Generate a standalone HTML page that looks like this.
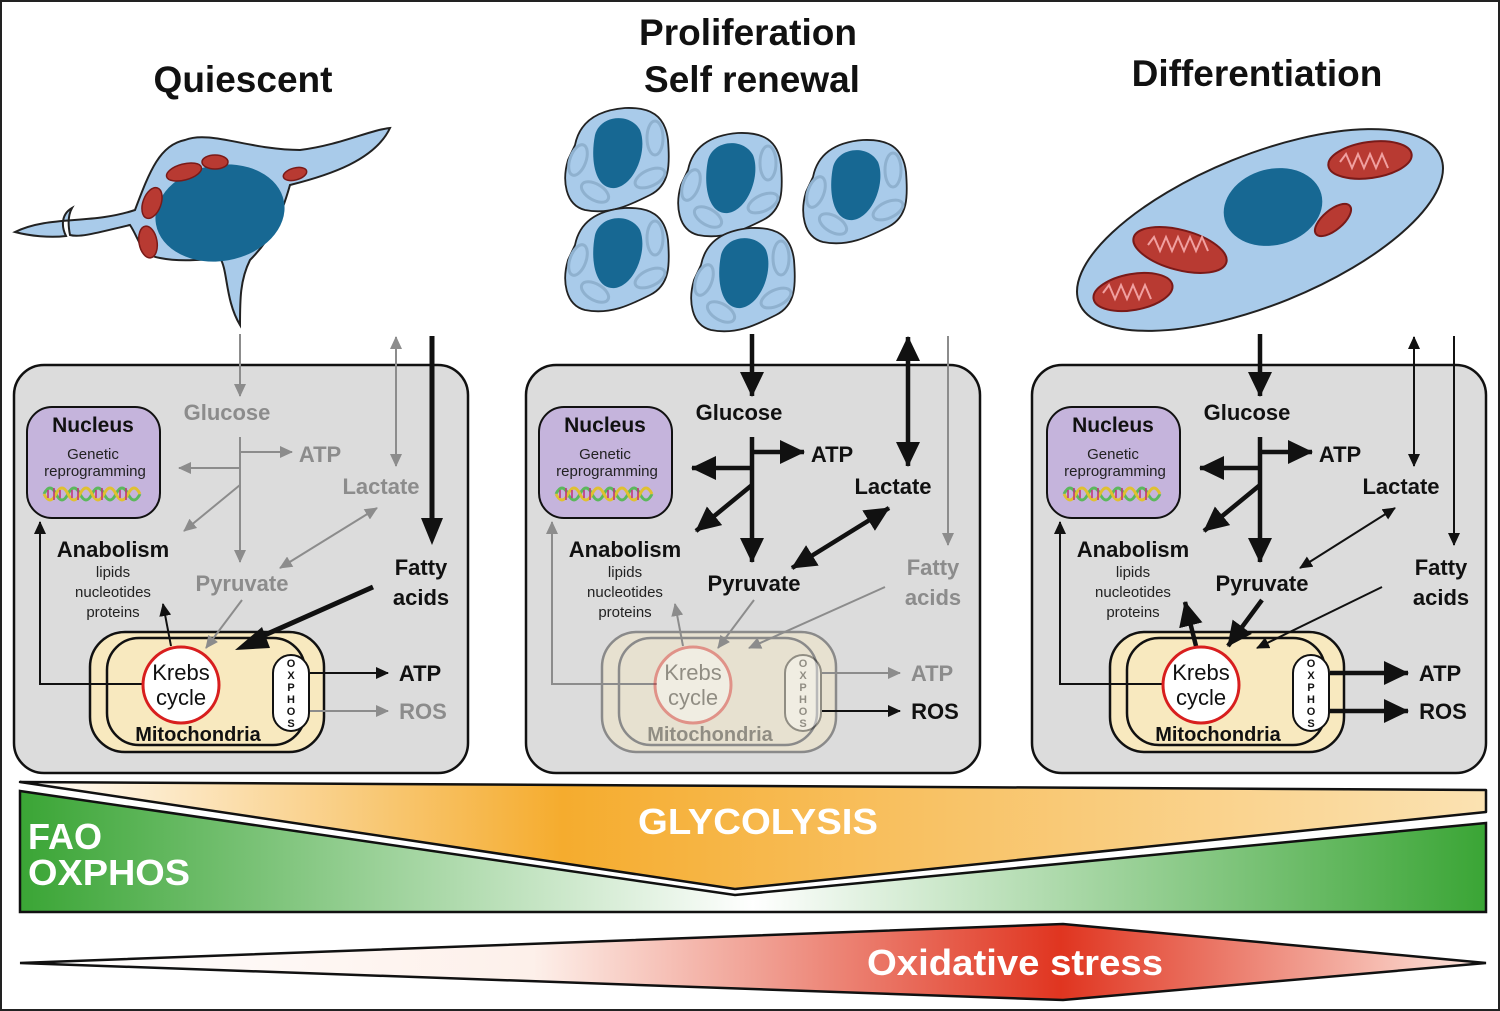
<!DOCTYPE html>
<html><head><meta charset="utf-8"><style>
html,body{margin:0;padding:0;background:#fff}
svg{display:block}
text{font-family:"Liberation Sans",Arial,sans-serif}
</style></head><body>
<svg width="1500" height="1011" viewBox="0 0 1500 1011" xmlns="http://www.w3.org/2000/svg">
<defs>
<marker id="ag" markerUnits="userSpaceOnUse" markerWidth="14" markerHeight="12" refX="12" refY="6" orient="auto-start-reverse"><path d="M0,0 L13,6 L0,12z" fill="#8c8c8c"/></marker>
<marker id="ab" markerUnits="userSpaceOnUse" markerWidth="14" markerHeight="12" refX="12" refY="6" orient="auto-start-reverse"><path d="M0,0 L13,6 L0,12z" fill="#111"/></marker>
<marker id="aB" markerUnits="userSpaceOnUse" markerWidth="26" markerHeight="24" refX="24" refY="12" orient="auto-start-reverse"><path d="M0,0 L25,12 L0,24z" fill="#111"/></marker>
<linearGradient id="gor" x1="20" x2="1486" y1="0" y2="0" gradientUnits="userSpaceOnUse"><stop offset="0" stop-color="#fff"/><stop offset="0.37" stop-color="#f5ac2e"/><stop offset="0.6" stop-color="#f8c060"/><stop offset="1" stop-color="#fbe2b2"/></linearGradient>
<linearGradient id="ggr" x1="20" x2="1486" y1="0" y2="0" gradientUnits="userSpaceOnUse"><stop offset="0" stop-color="#3aa535"/><stop offset="0.5" stop-color="#fff"/><stop offset="1" stop-color="#3aa535"/></linearGradient>
<linearGradient id="grd" x1="20" x2="1486" y1="0" y2="0" gradientUnits="userSpaceOnUse"><stop offset="0" stop-color="#fff"/><stop offset="0.35" stop-color="#fdf0ea"/><stop offset="0.71" stop-color="#e03520"/><stop offset="1" stop-color="#fde8e0"/></linearGradient>
<symbol id="cell" viewBox="-60 -55 120 110" overflow="visible">
<path d="M-45,-15 C-40,-40 -20,-50 5,-52 C30,-53 45,-45 48,-20 C50,5 50,25 30,35 C10,45 -10,55 -35,50 C-55,45 -58,20 -52,0 Z" fill="#a9cbea" stroke="#222" stroke-width="1.8"/>
<path d="M-25,-25 C-20,-45 10,-48 20,-30 C28,-10 15,25 -5,28 C-25,30 -30,0 -25,-25Z" fill="#176893"/>
<ellipse cx="35" cy="-22" rx="8" ry="17" fill="none" stroke="#8fb1cf" stroke-width="3"/>
<ellipse cx="-42" cy="0" rx="8" ry="16" fill="none" stroke="#8fb1cf" stroke-width="3" transform="rotate(20 -42 0)"/>
<ellipse cx="-25" cy="32" rx="15" ry="8" fill="none" stroke="#8fb1cf" stroke-width="3" transform="rotate(30 -25 32)"/>
<ellipse cx="30" cy="18" rx="16" ry="8" fill="none" stroke="#8fb1cf" stroke-width="3" transform="rotate(-25 30 18)"/>
</symbol>
<symbol id="dna" viewBox="0 0 100 20" overflow="visible">
<path d="M0,10 Q6,-2 12,10 T24,10 T36,10 T48,10 T60,10 T72,10 T84,10 T96,10" fill="none" stroke="#5cb85c" stroke-width="3"/>
<path d="M0,10 Q6,22 12,10 T24,10 T36,10 T48,10 T60,10 T72,10 T84,10 T96,10" fill="none" stroke="#e0c030" stroke-width="3"/>
<path d="M4,6 v8 M10,4 v12 M16,6 v8 M28,6 v8 M34,4 v12 M52,6 v8 M58,4 v12 M76,6 v8 M82,4 v12" stroke="#c0307a" stroke-width="1.5"/>
</symbol>
</defs>
<rect x="1" y="1" width="1498" height="1009" fill="#fff" stroke="#222" stroke-width="2"/>

<g font-weight="bold" font-size="37" text-anchor="middle" fill="#111">
<text x="243" y="92">Quiescent</text>
<text x="748" y="45">Proliferation</text>
<text x="752" y="92">Self renewal</text>
<text x="1257" y="86">Differentiation</text>
</g>

<path d="M15,232 C50,215 90,225 135,210 C150,170 160,145 185,140 C210,130 250,150 300,150 C340,145 370,130 390,128 C375,160 330,175 290,185 C280,220 270,240 250,260 C240,280 240,300 240,325 C225,300 228,270 220,258 C200,260 180,262 160,258 C140,255 140,240 130,225 C100,232 80,238 70,235 C68,225 68,215 72,208 C60,215 62,228 66,236 C50,238 30,236 15,232Z" fill="#a9cbea" stroke="#222" stroke-width="2"/>
<ellipse cx="220" cy="213" rx="65" ry="48" fill="#176893" transform="rotate(-10 220 213)"/>
<g fill="#b83a32" stroke="#7a1a18" stroke-width="1.5">
<ellipse cx="184" cy="172" rx="18" ry="8" transform="rotate(-15 184 172)"/>
<ellipse cx="215" cy="162" rx="13" ry="7"/>
<ellipse cx="295" cy="174" rx="12" ry="6" transform="rotate(-15 295 174)"/>
<ellipse cx="152" cy="203" rx="9" ry="16" transform="rotate(20 152 203)"/>
<ellipse cx="148" cy="242" rx="9" ry="16" transform="rotate(-10 148 242)"/>
</g>

<use href="#cell" x="560" y="105" width="120" height="110"/>
<use href="#cell" x="673" y="130" width="120" height="110"/>
<use href="#cell" x="798" y="137" width="120" height="110"/>
<use href="#cell" x="560" y="205" width="120" height="110"/>
<use href="#cell" x="686" y="225" width="120" height="110"/>

<ellipse cx="1260" cy="230" rx="195" ry="75" fill="#a9cbea" stroke="#222" stroke-width="2" transform="rotate(-22 1260 230)"/>
<ellipse cx="1273" cy="207" rx="50" ry="38" fill="#176893" transform="rotate(-15 1273 207)"/>
<g fill="#b83a32" stroke="#7a1a18" stroke-width="2">
<ellipse cx="1370" cy="160" rx="42" ry="18" transform="rotate(-8 1370 160)"/>
<ellipse cx="1180" cy="250" rx="48" ry="20" transform="rotate(15 1180 250)"/>
<ellipse cx="1333" cy="220" rx="22" ry="10" transform="rotate(-40 1333 220)"/>
<ellipse cx="1133" cy="292" rx="40" ry="18" transform="rotate(-10 1133 292)"/>
</g>
<g fill="none" stroke="#f0a0a0" stroke-width="2">
<path d="M1340,162 l6,-8 l6,14 l6,-14 l6,14 l6,-14 l6,14 l6,-14 l6,14"/>
<path d="M1148,245 l6,-8 l6,14 l6,-14 l6,14 l6,-14 l6,14 l6,-14 l6,14 l6,-14 l6,14"/>
<path d="M1103,293 l6,-8 l6,14 l6,-14 l6,14 l6,-14 l6,14 l6,-14 l6,14"/>
</g>

<rect x="14" y="365" width="454" height="408" rx="30" fill="#dcdcdc" stroke="#111" stroke-width="2.5"/>
<rect x="526" y="365" width="454" height="408" rx="30" fill="#dcdcdc" stroke="#111" stroke-width="2.5"/>
<rect x="1032" y="365" width="454" height="408" rx="30" fill="#dcdcdc" stroke="#111" stroke-width="2.5"/>

<!-- PANEL 1 -->
<g>
<rect x="90" y="632" width="234" height="120" rx="35" fill="#f8e9bf" stroke="#111" stroke-width="2.5"/>
<rect x="107" y="638" width="198" height="107" rx="32" fill="none" stroke="#111" stroke-width="2.5"/>
<rect x="27" y="407" width="133" height="111" rx="25" fill="#c5b4dc" stroke="#111" stroke-width="2"/>
<text x="93" y="432" font-size="21" font-weight="bold" text-anchor="middle" fill="#111">Nucleus</text>
<text x="93" y="459" font-size="15" text-anchor="middle" fill="#222">Genetic</text>
<text x="95" y="476" font-size="15" text-anchor="middle" fill="#222">reprogramming</text>
<use href="#dna" x="44" y="484" width="100" height="20"/>
<g fill="none" stroke="#8c8c8c" stroke-width="2">
<path d="M240,334 V396" marker-end="url(#ag)"/>
<path d="M240,437 V562" marker-end="url(#ag)"/>
<path d="M240,452 H292" marker-end="url(#ag)"/>
<path d="M240,468 H179" marker-end="url(#ag)"/>
<path d="M240,485 L184,531" marker-end="url(#ag)"/>
<path d="M396,337 V466" marker-start="url(#ag)" marker-end="url(#ag)"/>
<path d="M377,508 L280,568" marker-start="url(#ag)" marker-end="url(#ag)"/>
<path d="M242,600 L206,648" marker-end="url(#ag)"/>
<path d="M310,711 H388" marker-end="url(#ag)"/>
</g>
<g font-weight="bold" font-size="22" fill="#8c8c8c" text-anchor="middle">
<text x="227" y="420">Glucose</text><text x="320" y="462">ATP</text><text x="381" y="494">Lactate</text><text x="242" y="591">Pyruvate</text><text x="423" y="719">ROS</text>
</g>
<path d="M432,336 V520" stroke="#111" stroke-width="5"/><path d="M421,518 H443 L432,545Z" fill="#111"/>
<path d="M373,587 L258,638" stroke="#111" stroke-width="5"/><path d="M235,650 L262,627 L270,648Z" fill="#111"/>
<text x="421" y="575" font-size="22" font-weight="bold" text-anchor="middle" fill="#111">Fatty</text>
<text x="421" y="605" font-size="22" font-weight="bold" text-anchor="middle" fill="#111">acids</text>
<text x="113" y="557" font-size="22" font-weight="bold" text-anchor="middle" fill="#111">Anabolism</text>
<g font-size="15" text-anchor="middle" fill="#222"><text x="113" y="577">lipids</text><text x="113" y="597">nucleotides</text><text x="113" y="617">proteins</text></g>
<g fill="none" stroke="#111" stroke-width="2">
<path d="M145,684 H40 V522" marker-end="url(#ab)"/>
<path d="M171,646 L163,604" marker-end="url(#ab)"/>
<path d="M310,673 H388" marker-end="url(#ab)"/>
</g>
<circle cx="181" cy="685" r="38" fill="#fff" stroke="#d81e1e" stroke-width="3"/>
<text x="181" y="680" font-size="22" text-anchor="middle" fill="#111">Krebs</text>
<text x="181" y="705" font-size="22" text-anchor="middle" fill="#111">cycle</text>
<rect x="273" y="655" width="36" height="76" rx="18" fill="#fff" stroke="#111" stroke-width="2"/>
<g font-size="11" font-weight="bold" text-anchor="middle" fill="#111"><text x="291" y="667">O</text><text x="291" y="679">X</text><text x="291" y="691">P</text><text x="291" y="703">H</text><text x="291" y="715">O</text><text x="291" y="727">S</text></g>
<text x="198" y="741" font-size="20" font-weight="bold" text-anchor="middle" fill="#111">Mitochondria</text>
<text x="420" y="681" font-size="22" font-weight="bold" text-anchor="middle" fill="#111">ATP</text>
</g>

<!-- PANEL 2 -->
<g transform="translate(512,0)">
<rect x="27" y="407" width="133" height="111" rx="25" fill="#c5b4dc" stroke="#111" stroke-width="2"/>
<text x="93" y="432" font-size="21" font-weight="bold" text-anchor="middle" fill="#111">Nucleus</text>
<text x="93" y="459" font-size="15" text-anchor="middle" fill="#222">Genetic</text>
<text x="95" y="476" font-size="15" text-anchor="middle" fill="#222">reprogramming</text>
<use href="#dna" x="44" y="484" width="100" height="20"/>
<g opacity="0.4">
<rect x="90" y="632" width="234" height="120" rx="35" fill="#f8e9bf" stroke="#111" stroke-width="2.5"/>
<rect x="107" y="638" width="198" height="107" rx="32" fill="none" stroke="#111" stroke-width="2.5"/>
</g>
<g fill="none" stroke="#111" stroke-width="4.5">
<path d="M240,334 V396" marker-end="url(#aB)"/>
<path d="M240,437 V562" marker-end="url(#aB)"/>
<path d="M240,452 H292" marker-end="url(#aB)"/>
<path d="M240,468 H180" marker-end="url(#aB)"/>
<path d="M240,485 L184,531" marker-end="url(#aB)"/>
<path d="M396,337 V466" marker-start="url(#aB)" marker-end="url(#aB)"/>
<path d="M377,508 L280,568" marker-start="url(#aB)" marker-end="url(#aB)"/>
</g>
<g font-weight="bold" font-size="22" fill="#111" text-anchor="middle">
<text x="227" y="420">Glucose</text><text x="320" y="462">ATP</text><text x="381" y="494">Lactate</text><text x="242" y="591">Pyruvate</text><text x="423" y="719">ROS</text>
</g>
<g fill="none" stroke="#8c8c8c" stroke-width="2">
<path d="M436,336 V545" marker-end="url(#ag)"/>
<path d="M373,587 L237,648" marker-end="url(#ag)"/>
<path d="M145,684 H40 V522" marker-end="url(#ag)"/>
<path d="M171,646 L163,604" marker-end="url(#ag)"/>
<path d="M310,673 H388" marker-end="url(#ag)"/>
<path d="M242,600 L206,648" marker-end="url(#ag)"/>
</g>
<path d="M310,711 H388" stroke="#111" stroke-width="2" fill="none" marker-end="url(#ab)"/>
<text x="421" y="575" font-size="22" font-weight="bold" text-anchor="middle" fill="#8c8c8c">Fatty</text>
<text x="421" y="605" font-size="22" font-weight="bold" text-anchor="middle" fill="#8c8c8c">acids</text>
<text x="113" y="557" font-size="22" font-weight="bold" text-anchor="middle" fill="#111">Anabolism</text>
<g font-size="15" text-anchor="middle" fill="#222"><text x="113" y="577">lipids</text><text x="113" y="597">nucleotides</text><text x="113" y="617">proteins</text></g>
<g opacity="0.4">
<circle cx="181" cy="685" r="38" fill="#fff" stroke="#d81e1e" stroke-width="3"/>
<text x="181" y="680" font-size="22" text-anchor="middle" fill="#111">Krebs</text>
<text x="181" y="705" font-size="22" text-anchor="middle" fill="#111">cycle</text>
<rect x="273" y="655" width="36" height="76" rx="18" fill="#fff" stroke="#111" stroke-width="2"/>
<g font-size="11" font-weight="bold" text-anchor="middle" fill="#111"><text x="291" y="667">O</text><text x="291" y="679">X</text><text x="291" y="691">P</text><text x="291" y="703">H</text><text x="291" y="715">O</text><text x="291" y="727">S</text></g>
<text x="198" y="741" font-size="20" font-weight="bold" text-anchor="middle" fill="#111">Mitochondria</text>
</g>
<text x="420" y="681" font-size="22" font-weight="bold" text-anchor="middle" fill="#8c8c8c">ATP</text>
</g>

<!-- PANEL 3 -->
<g transform="translate(1020,0)">
<rect x="90" y="632" width="234" height="120" rx="35" fill="#f8e9bf" stroke="#111" stroke-width="2.5"/>
<rect x="107" y="638" width="198" height="107" rx="32" fill="none" stroke="#111" stroke-width="2.5"/>
<rect x="27" y="407" width="133" height="111" rx="25" fill="#c5b4dc" stroke="#111" stroke-width="2"/>
<text x="93" y="432" font-size="21" font-weight="bold" text-anchor="middle" fill="#111">Nucleus</text>
<text x="93" y="459" font-size="15" text-anchor="middle" fill="#222">Genetic</text>
<text x="95" y="476" font-size="15" text-anchor="middle" fill="#222">reprogramming</text>
<use href="#dna" x="44" y="484" width="100" height="20"/>
<g fill="none" stroke="#111" stroke-width="4.5">
<path d="M240,334 V396" marker-end="url(#aB)"/>
<path d="M240,437 V562" marker-end="url(#aB)"/>
<path d="M240,452 H292" marker-end="url(#aB)"/>
<path d="M240,468 H180" marker-end="url(#aB)"/>
<path d="M240,485 L184,531" marker-end="url(#aB)"/>
<path d="M242,600 L208,646" marker-end="url(#aB)"/>
<path d="M176,646 L165,602" marker-end="url(#aB)"/>
<path d="M310,673 H388" marker-end="url(#aB)"/>
<path d="M310,711 H388" marker-end="url(#aB)"/>
</g>
<g fill="none" stroke="#111" stroke-width="2">
<path d="M394,337 V466" marker-start="url(#ab)" marker-end="url(#ab)"/>
<path d="M434,336 V545" marker-end="url(#ab)"/>
<path d="M375,508 L280,568" marker-start="url(#ab)" marker-end="url(#ab)"/>
<path d="M362,587 L237,648" marker-end="url(#ab)"/>
<path d="M145,684 H40 V522" marker-end="url(#ab)"/>
</g>
<g font-weight="bold" font-size="22" fill="#111" text-anchor="middle">
<text x="227" y="420">Glucose</text><text x="320" y="462">ATP</text><text x="381" y="494">Lactate</text><text x="242" y="591">Pyruvate</text><text x="423" y="719">ROS</text><text x="420" y="681">ATP</text>
<text x="421" y="575">Fatty</text><text x="421" y="605">acids</text><text x="113" y="557">Anabolism</text>
</g>
<g font-size="15" text-anchor="middle" fill="#222"><text x="113" y="577">lipids</text><text x="113" y="597">nucleotides</text><text x="113" y="617">proteins</text></g>
<circle cx="181" cy="685" r="38" fill="#fff" stroke="#d81e1e" stroke-width="3"/>
<text x="181" y="680" font-size="22" text-anchor="middle" fill="#111">Krebs</text>
<text x="181" y="705" font-size="22" text-anchor="middle" fill="#111">cycle</text>
<rect x="273" y="655" width="36" height="76" rx="18" fill="#fff" stroke="#111" stroke-width="2"/>
<g font-size="11" font-weight="bold" text-anchor="middle" fill="#111"><text x="291" y="667">O</text><text x="291" y="679">X</text><text x="291" y="691">P</text><text x="291" y="703">H</text><text x="291" y="715">O</text><text x="291" y="727">S</text></g>
<text x="198" y="741" font-size="20" font-weight="bold" text-anchor="middle" fill="#111">Mitochondria</text>
</g>

<polygon points="20,782 1486,790 1486,812 735,889" fill="url(#gor)" stroke="#111" stroke-width="2.5" stroke-linejoin="round"/>
<polygon points="20,791 735,895 1486,823 1486,912 20,912" fill="url(#ggr)" stroke="#111" stroke-width="2.5"/>
<text x="758" y="834" font-size="36" font-weight="bold" fill="#fff" text-anchor="middle" textLength="240" lengthAdjust="spacingAndGlyphs">GLYCOLYSIS</text>
<text x="28" y="849" font-size="36" font-weight="bold" fill="#fff">FAO</text>
<text x="28" y="885" font-size="36" font-weight="bold" fill="#fff" textLength="162" lengthAdjust="spacingAndGlyphs">OXPHOS</text>
<polygon points="20,963 1063,924 1486,963 1063,1000" fill="url(#grd)" stroke="#111" stroke-width="2.5"/>
<text x="1015" y="975" font-size="36" font-weight="bold" fill="#fff" text-anchor="middle" textLength="296" lengthAdjust="spacingAndGlyphs">Oxidative stress</text>
</svg>
</body></html>
